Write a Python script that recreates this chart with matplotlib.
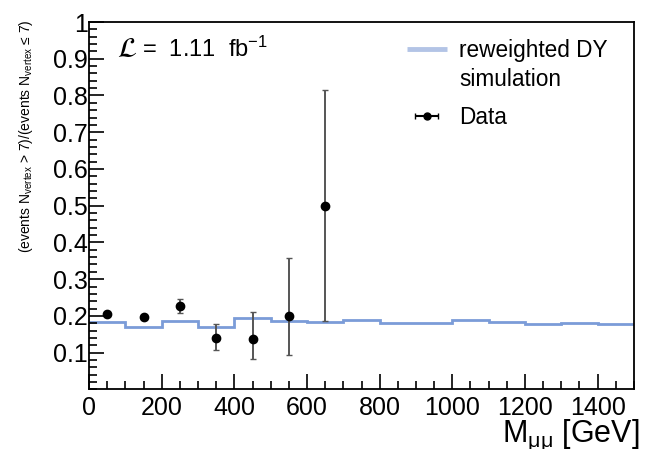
import numpy as np
import matplotlib.pyplot as plt
import matplotlib.transforms as mtransforms
from matplotlib.ticker import MultipleLocator, FixedLocator
from matplotlib.lines import Line2D
from matplotlib.legend_handler import HandlerLine2D

plt.rcParams['font.family'] = ['Liberation Sans', 'DejaVu Sans']
plt.rcParams['mathtext.fontset'] = 'custom'
plt.rcParams['mathtext.rm'] = 'Liberation Sans'
plt.rcParams['mathtext.it'] = 'Liberation Sans:italic'
plt.rcParams['mathtext.bf'] = 'Liberation Sans:bold'

# reweighted DY simulation, 100 GeV bins
edges = np.arange(0, 1501, 100)
mc_ratio = [0.183, 0.171, 0.185, 0.169, 0.194, 0.186, 0.183, 0.188,
            0.180, 0.180, 0.188, 0.183, 0.179, 0.182, 0.177]

# data points
data_x = [50, 150, 250, 350, 450, 550, 650]
data_y = [0.205, 0.197, 0.227, 0.139, 0.136, 0.200, 0.500]
err_lo = [0.004, 0.004, 0.018, 0.032, 0.052, 0.106, 0.314]
err_hi = [0.004, 0.004, 0.018, 0.038, 0.074, 0.157, 0.315]


class RaisedLine(HandlerLine2D):
    # put the legend line next to the first text line
    def create_artists(self, legend, orig_handle, xdescent, ydescent, width, height,
                       fontsize, trans):
        trans = mtransforms.Affine2D().translate(0, 12) + trans
        return super().create_artists(legend, orig_handle, xdescent, ydescent, width,
                                      height, fontsize, trans)


fig = plt.figure(figsize=(6.46, 4.49), dpi=100)
ax = fig.add_axes([0.1378, 0.1327, 0.9814 - 0.1378, 0.951 - 0.1327])

ax.stairs(mc_ratio, edges, color='#7b9cd8', lw=2, baseline=None)
ax.errorbar(data_x, data_y, yerr=[err_lo, err_hi], fmt='o', color='black',
            ms=6, ecolor='#555555', elinewidth=1.4, capsize=2, capthick=1)

ax.set_xlim(0, 1500)
ax.set_ylim(0, 1)

yt = [0.1, 0.2, 0.3, 0.4, 0.5, 0.6, 0.7, 0.8, 0.9, 1.0]
ax.yaxis.set_major_locator(FixedLocator(yt))
ax.set_yticklabels(['0.1', '0.2', '0.3', '0.4', '0.5', '0.6', '0.7', '0.8', '0.9', '1'])
ax.yaxis.set_minor_locator(MultipleLocator(0.02))
ax.xaxis.set_major_locator(MultipleLocator(200))
ax.xaxis.set_minor_locator(MultipleLocator(50))

ax.tick_params(which='both', direction='in', top=False, right=False, labelsize=18, width=1.2)
ax.tick_params(axis='y', which='major', length=11, pad=1)
ax.tick_params(axis='y', which='minor', length=6)
ax.tick_params(axis='x', which='major', length=11, pad=5)
ax.tick_params(axis='x', which='minor', length=6)
for s in ax.spines.values():
    s.set_linewidth(1.3)

fig.text(640 / 646, 1 - 442 / 449, r'M$_{\mathrm{μμ}}$ [GeV]', fontsize=22,
         ha='right', va='baseline')
fig.text(0.040, 1 - 19 / 449, r'(events N$_{\mathrm{vertex}}$ > 7)/(events N$_{\mathrm{vertex}}$ ≤ 7)',
         rotation=90, ha='center', va='top', fontsize=10)

ax.text(0.052, 0.905, r'$\mathcal{L}$', transform=ax.transAxes, fontsize=20,
        math_fontfamily='stix', ha='left', va='baseline')
ax.text(0.098, 0.905, r'=  1.11  fb$^{\mathrm{-1}}$', transform=ax.transAxes, fontsize=17,
        ha='left', va='baseline')

h_mc = Line2D([], [], color='#b3c4e6', lw=3.5, solid_capstyle='butt')
h_data = ax.errorbar([np.nan], [np.nan], xerr=[1], fmt='o', color='black', ms=5,
                     elinewidth=1.5, capsize=2)
leg = ax.legend([h_mc, h_data], ['reweighted DY\nsimulation', 'Data'], loc='upper left',
                bbox_to_anchor=(0.546, 1.01), frameon=False, fontsize=16.3, handlelength=1.75,
                handletextpad=0.55, labelspacing=0.65, handler_map={Line2D: RaisedLine()})
for t in leg.get_texts():
    t.set_linespacing(1.35)

fig.savefig('out.png', dpi=100)
